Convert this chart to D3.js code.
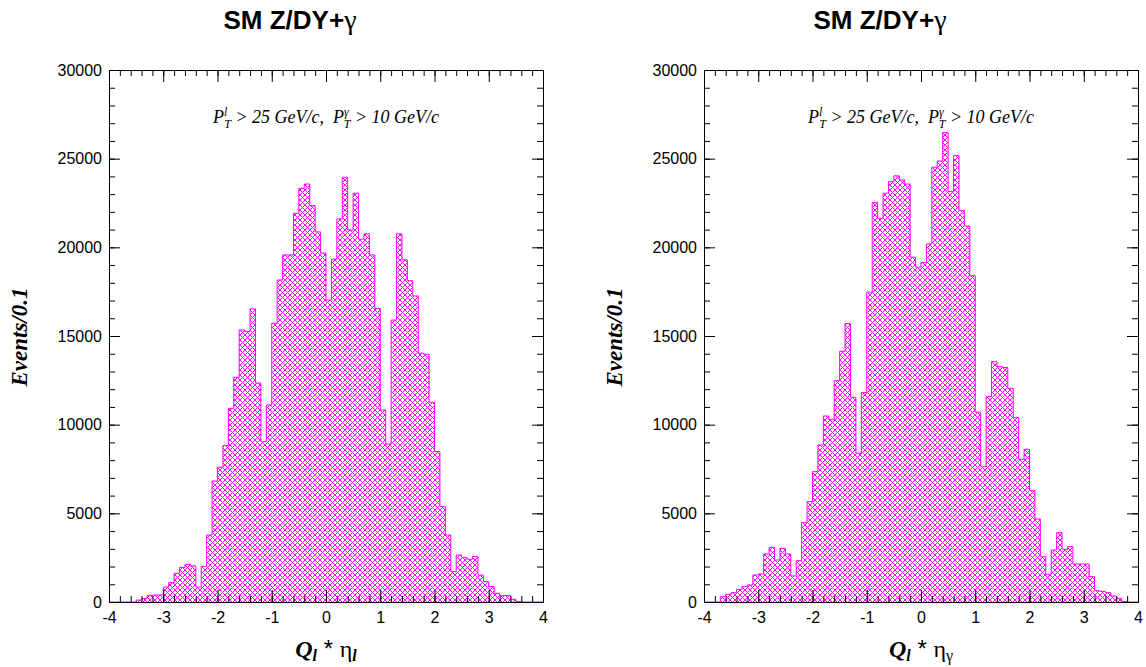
<!DOCTYPE html>
<html>
<head>
<meta charset="utf-8">
<script src="https://cdn.jsdelivr.net/npm/d3@7"></script>
<style>
  body { margin: 0; background: #fff; }
  svg { display: block; }
  .tick text { font-family: "Liberation Sans", Arial, sans-serif; font-size: 16px; fill: #000; }
  .serif { font-family: "Liberation Serif", "Times New Roman", serif; }
</style>
</head>
<body>
<div id="chart"></div>
<script>
// histogram: 80 bins of 0.1 from -4 to 4
const binStart = -4, binWidth = 0.1;

// Q_l * eta_l
const etaLepton = [
  0, 0, 0, 0, 0, 110, 200, 360, 390, 400,
  840, 1090, 1620, 1950, 2120, 2040, 840, 2010, 3780, 6820,
  7600, 8820, 10920, 12670, 15340, 15250, 16530, 12350, 9040, 11110,
  15720, 18160, 19570, 19570, 21920, 23330, 23570, 22350, 20870, 19680,
  17030, 19330, 21600, 23950, 20980, 23050, 20460, 20760, 19570, 16560,
  10830, 8900, 15900, 20760, 19290, 18120, 17260, 14030, 13970, 11260,
  8480, 5380, 3780, 1710, 2650, 2520, 2410, 2560, 1520, 1150,
  870, 490, 360, 360, 150, 30, 0, 0, 0, 0
];

// Q_l * eta_gamma
const etaPhoton = [
  0, 0, 0, 300, 432, 526, 714, 865, 960, 1523,
  1580, 2710, 3083, 2369, 3026, 2710, 1470, 2330, 4474, 5660,
  7350, 8855, 10490, 10300, 12480, 14140, 15700, 11540, 8390, 11810,
  17470, 22520, 21640, 23050, 23705, 24030, 23800, 23570, 19440, 18880,
  19140, 20190, 24515, 24870, 26470, 23140, 25170, 22070, 21200, 18400,
  10710, 7630, 11580, 13550, 13270, 13220, 12050, 10400, 8050, 8610,
  6280, 4680, 2555, 1560, 2930, 3910, 2970, 3120, 2140, 2140,
  2140, 1430, 640, 600, 526, 338, 207, 30, 0, 0
];

const xTicks = [-4, -3, -2, -1, 0, 1, 2, 3, 4];
const yTicks = [0, 5000, 10000, 15000, 20000, 25000, 30000];
const titleText = "SM Z/DY+";

const width = 1146, height = 667;
const frameTop = 70, frameBottom = 602;
const hatchColor = '#ff00ff';

const panels = [
  { left: 109, right: 543, data: etaLepton, sub: 'l', titleX: 290 },
  { left: 704, right: 1138, data: etaPhoton, sub: 'γ', titleX: 880 }
];

const svg = d3.select('#chart').append('svg')
  .attr('width', width)
  .attr('height', height);

// cross hatch fill, built pixel by pixel so it stays sharp
const tile = 5;
const pat = svg.append('defs').append('pattern')
  .attr('id', 'hatch')
  .attr('patternUnits', 'userSpaceOnUse')
  .attr('width', tile)
  .attr('height', tile);
pat.append('rect').attr('width', tile).attr('height', tile).attr('fill', '#fff');
d3.range(tile).forEach(function(k) {
  [[k, k], [tile - 1 - k, k]].forEach(function(c) {
    pat.append('rect')
      .attr('x', c[0]).attr('y', c[1])
      .attr('width', 1).attr('height', 1)
      .attr('fill', hatchColor)
      .attr('shape-rendering', 'crispEdges');
  });
});

panels.forEach(function(p) {
  const x = d3.scaleLinear().domain([-4, 4]).range([p.left, p.right]);
  const y = d3.scaleLinear().domain([0, 30000]).range([frameBottom, frameTop]);
  const g = svg.append('g');

  // step outline
  const pts = [[binStart, 0]];
  p.data.forEach(function(v, i) {
    const lo = binStart + i * binWidth;
    pts.push([lo, v], [lo + binWidth, v]);
  });
  pts.push([binStart + p.data.length * binWidth, 0]);

  const line = d3.line().x(d => x(d[0])).y(d => y(d[1]));

  g.append('path')
    .attr('d', line(pts) + 'Z')
    .attr('fill', 'url(#hatch)')
    .attr('stroke', 'none');
  g.append('path')
    .attr('d', line(pts))
    .attr('fill', 'none')
    .attr('stroke', hatchColor)
    .attr('stroke-width', 1);

  // axes, ticks pointing inside
  const xMinor = d3.range(-4, 4.001, 0.2);
  const yMinor = d3.range(0, 30001, 1000);

  const addAxis = function(axis, tx, ty) {
    const a = g.append('g')
      .attr('transform', 'translate(' + tx + ',' + ty + ')')
      .style('color', '#000')
      .call(axis);
    a.select('.domain').remove();
    a.selectAll('text').attr('font-family', null).attr('font-size', null);
    return a;
  };

  addAxis(d3.axisBottom(x).tickValues(xMinor).tickSize(-6).tickFormat(''), 0, frameBottom);
  addAxis(d3.axisBottom(x).tickValues(xTicks).tickSize(-12).tickPadding(10).tickFormat(d => String(d)), 0, frameBottom);
  addAxis(d3.axisTop(x).tickValues(xMinor).tickSize(-6).tickFormat(''), 0, frameTop);
  addAxis(d3.axisTop(x).tickValues(xTicks).tickSize(-12).tickFormat(''), 0, frameTop);

  addAxis(d3.axisLeft(y).tickValues(yMinor).tickSize(-6).tickFormat(''), p.left, 0);
  addAxis(d3.axisLeft(y).tickValues(yTicks).tickSize(-11).tickPadding(7).tickFormat(d => String(d)), p.left, 0);
  addAxis(d3.axisRight(y).tickValues(yMinor).tickSize(-6).tickFormat(''), p.right, 0);
  addAxis(d3.axisRight(y).tickValues(yTicks).tickSize(-11).tickFormat(''), p.right, 0);

  g.append('rect')
    .attr('x', p.left + 0.5)
    .attr('y', frameTop + 0.5)
    .attr('width', p.right - p.left)
    .attr('height', frameBottom - frameTop)
    .attr('fill', 'none')
    .attr('stroke', '#000')
    .attr('stroke-width', 1);

  // title
  const t = g.append('text')
    .attr('x', p.titleX)
    .attr('y', 29)
    .attr('text-anchor', 'middle')
    .attr('font-family', '"Liberation Sans", Arial, sans-serif')
    .attr('font-weight', 'bold')
    .attr('font-size', 26)
    .text(titleText);
  t.append('tspan').attr('font-weight', 'normal').attr('class', 'serif').attr('font-size', 28).text('γ');

  // cut annotation
  const cx = (p.left + p.right) / 2;
  const ann = g.append('text')
    .attr('class', 'serif')
    .attr('x', cx)
    .attr('y', 123)
    .attr('text-anchor', 'middle')
    .attr('font-style', 'italic')
    .attr('font-size', 18);
  ann.append('tspan').text('P');
  ann.append('tspan').attr('font-size', 12).attr('dy', -7).text('l');
  ann.append('tspan').attr('font-size', 12).attr('dx', -3).attr('dy', 12).text('T');
  ann.append('tspan').attr('dy', -5).text('\u00a0> 25 GeV/c,\u00a0\u00a0P');
  ann.append('tspan').attr('font-size', 12).attr('dy', -7).text('γ');
  ann.append('tspan').attr('font-size', 12).attr('dx', -5).attr('dy', 12).text('T');
  ann.append('tspan').attr('dy', -5).text('\u00a0> 10 GeV/c');

  // y title
  g.append('text')
    .attr('class', 'serif')
    .attr('transform', 'translate(' + (p.left - 82) + ',337) rotate(-90)')
    .attr('text-anchor', 'middle')
    .attr('font-weight', 'bold')
    .attr('font-style', 'italic')
    .attr('font-size', 23)
    .text('Events/0.1');

  // x title
  const xt = g.append('text')
    .attr('class', 'serif')
    .attr('x', cx)
    .attr('y', 657)
    .attr('text-anchor', 'middle')
    .attr('font-size', 24);
  xt.append('tspan').attr('font-weight', 'bold').attr('font-style', 'italic').text('Q');
  xt.append('tspan').attr('font-weight', 'bold').attr('font-style', 'italic').attr('font-size', 16).attr('dy', 4).text('l');
  xt.append('tspan').attr('dy', -4).attr('font-family', '"Liberation Sans", Arial, sans-serif').text('\u00a0*\u00a0');
  xt.append('tspan').text('η');
  xt.append('tspan').attr('font-size', 16).attr('dy', 4).attr('font-style', p.sub === 'l' ? 'italic' : 'normal').attr('font-weight', p.sub === 'l' ? 'bold' : 'normal').text(p.sub);
});
</script>
</body>
</html>
